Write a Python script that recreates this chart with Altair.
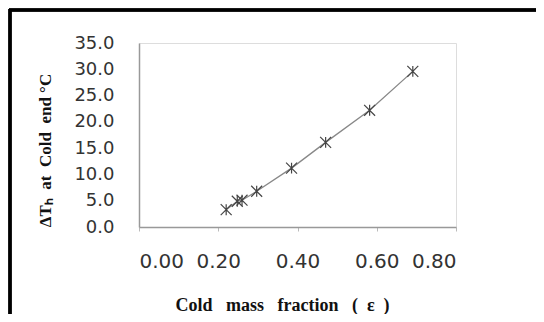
import altair as alt
import pandas as pd

cold_mass_fraction = [0.220, 0.248, 0.260, 0.297, 0.385, 0.471, 0.582, 0.691]
delta_t_cold = [3.3, 4.9, 5.1, 6.8, 11.2, 16.1, 22.2, 29.6]
x_ticks = [0.0, 0.2, 0.4, 0.6, 0.8]
y_ticks = [0, 5, 10, 15, 20, 25, 30, 35]

df = pd.DataFrame({"x": cold_mass_fraction, "y": delta_t_cold})

W, H = 317, 184
NB = "\u00a0"

xenc = alt.X("x:Q", scale=alt.Scale(domain=[0, 0.8], nice=False, zero=False),
             axis=alt.Axis(values=x_ticks, format=".2f", grid=False,
                           title=f"Cold{NB*3}mass{NB*3}fraction{NB*3}({NB*2}ε{NB*2})",
                           titleFont="Liberation Serif", titleFontSize=18, titleFontWeight="bold",
                           titleColor="#111", titleX=143, titleY=78, titleAlign="center",
                           titleBaseline="middle",
                           labelFont="DejaVu Sans", labelFontSize=20, labelColor="#333",
                           labelPadding=20, tickSize=4, tickColor="#bbb",
                           labelOverlap=False,
                           domainColor="#999", domainWidth=1.5))
yenc = alt.Y("y:Q", scale=alt.Scale(domain=[0, 35], nice=False),
             axis=alt.Axis(values=y_ticks, format=".1f", grid=False,
                           title=f"ΔTₕ{NB*2}at{NB*2}Cold{NB*2}end{NB}°C",
                           titleFont="Liberation Serif", titleFontSize=17, titleFontWeight="bold",
                           titleColor="#111", titleX=-94, titleY=107, titleAngle=-90,
                           titleAlign="center", titleBaseline="middle",
                           labelFont="DejaVu Sans", labelFontSize=18, labelColor="#333",
                           labelPadding=25, ticks=False, tickSize=0,
                           labelOverlap=False,
                           domainColor="#999", domainWidth=1.5))

base = alt.Chart(df).encode(x=xenc, y=yenc)
line = base.mark_line(color="#888", strokeWidth=1.3)
pts = base.mark_point(shape="M-1,-1L1,1M-1,1L1,-1M0,-1L0,1", size=120, filled=False,
                      color="#444", strokeWidth=1.2, opacity=1)

frame_left = alt.Chart(df).mark_rule(color="#000", strokeWidth=2.5).encode(
    x=alt.value(-129), y=alt.value(-34), y2=alt.value(300))
frame_top = alt.Chart(df).mark_rule(color="#000", strokeWidth=2.5).encode(
    x=alt.value(-130), x2=alt.value(420), y=alt.value(-33))

chart = alt.layer(line, pts, frame_left, frame_top).properties(
    width=W, height=H,
    autosize=alt.AutoSizeParams(type="none"),
    padding={"left": 131, "top": 35, "right": 80, "bottom": 87},
).configure_view(stroke="#999", strokeWidth=1.5).configure_axis(
    labelOverlap=False).configure(background="white")

chart.save("out.html", embed_options={"renderer": "svg", "actions": False})
